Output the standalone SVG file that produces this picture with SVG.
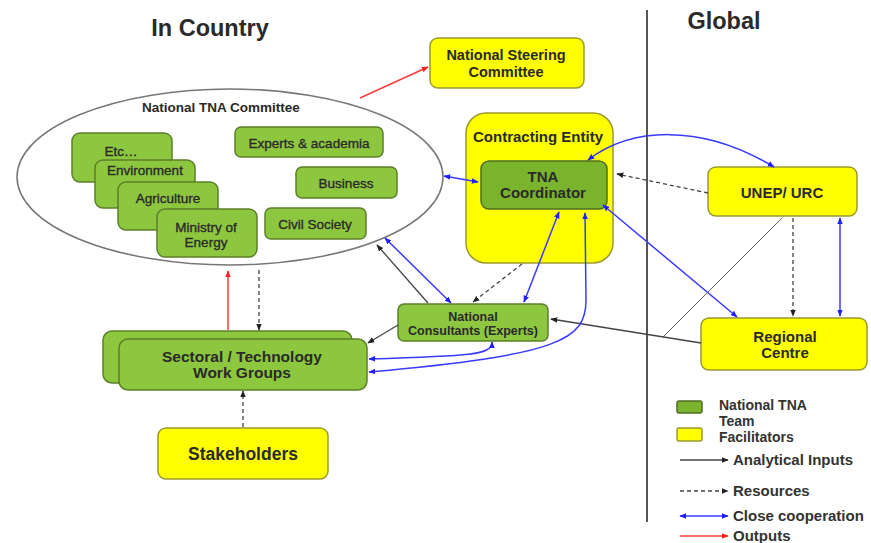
<svg xmlns="http://www.w3.org/2000/svg" width="871" height="543" viewBox="0 0 871 543">
<defs>
<style>
text{font-family:"Liberation Sans",Arial,sans-serif;font-weight:bold;fill:#2a2a2a;text-anchor:middle}
.in{font-weight:normal;font-size:13.5px;stroke:#2a2a2a;stroke-width:0.35}
.g{fill:#8dc63f;stroke:#5d7f2a;stroke-width:1.5}
.gd{fill:#7ab32c;stroke:#4f6f22;stroke-width:1.5}
.y{fill:#ffff00;stroke:#9a9a30;stroke-width:1.5}
.blk{fill:none;stroke:#444;stroke-width:1.3}
.dash{fill:none;stroke:#444;stroke-width:1.3;stroke-dasharray:4,3}
.blue{fill:none;stroke:#3a3aff;stroke-width:1.5}
.red{fill:none;stroke:#ff3b3b;stroke-width:1.5}
.lt{text-anchor:start;font-size:15px;fill:#333}
.lk{text-anchor:start;font-size:14px;fill:#333}
</style>
<marker id="ak" viewBox="0 0 10 10" refX="9" refY="5" markerWidth="7" markerHeight="7" orient="auto-start-reverse" markerUnits="userSpaceOnUse"><path d="M0,1 L10,5 L0,9 z" fill="#222"/></marker>
<marker id="ab" viewBox="0 0 10 10" refX="9" refY="5" markerWidth="7" markerHeight="7" orient="auto-start-reverse" markerUnits="userSpaceOnUse"><path d="M0,1 L10,5 L0,9 z" fill="#2020ff"/></marker>
<marker id="ar" viewBox="0 0 10 10" refX="9" refY="5" markerWidth="7" markerHeight="7" orient="auto-start-reverse" markerUnits="userSpaceOnUse"><path d="M0,1 L10,5 L0,9 z" fill="#ff2020"/></marker>
</defs>
<rect width="871" height="543" fill="#fff"/>
<text x="210" y="36" font-size="23.5">In Country</text>
<text x="724" y="29" font-size="23.5">Global</text>
<line x1="647" y1="10" x2="647" y2="522" stroke="#555" stroke-width="2"/>

<g id="national-tna-committee">
<ellipse cx="230" cy="177" rx="213" ry="88" fill="#fff" stroke="#777" stroke-width="1.5"/>
<text x="221" y="112" font-size="13.5">National TNA Committee</text>
</g>
<g id="etc"><rect class="g" x="72" y="133" width="100" height="49" rx="8"/><text class="in" x="121" y="156">Etc…</text></g>
<g id="environment"><rect class="g" x="95" y="160" width="100" height="48" rx="8"/><text class="in" x="145" y="175">Environment</text></g>
<g id="agriculture"><rect class="g" x="118" y="182" width="100" height="48" rx="8"/><text class="in" x="168" y="203">Agriculture</text></g>
<g id="ministry-of-energy"><rect class="g" x="157" y="209" width="100" height="48" rx="8"/><text class="in" x="206" y="232">Ministry of</text><text class="in" x="206" y="247">Energy</text></g>
<g id="experts-academia"><rect class="g" x="235" y="127" width="148" height="30" rx="6"/><text class="in" x="309" y="148">Experts &amp; academia</text></g>
<g id="business"><rect class="g" x="296" y="167" width="101" height="31" rx="6"/><text class="in" x="346" y="188">Business</text></g>
<g id="civil-society"><rect class="g" x="265" y="208" width="101" height="31" rx="6"/><text class="in" x="315" y="229">Civil Society</text></g>

<g id="national-steering-committee"><rect class="y" x="430" y="38" width="154" height="50" rx="8"/><text x="506" y="60" font-size="14.5">National Steering</text><text x="506" y="77" font-size="14.5">Committee</text></g>

<g id="contracting-entity"><rect class="y" x="466" y="113" width="147" height="150" rx="20"/><text x="538" y="142" font-size="15">Contracting Entity</text></g>
<g id="tna-coordinator"><rect class="gd" x="481" y="161" width="126" height="48" rx="8"/><text x="543" y="182" font-size="15">TNA</text><text x="543" y="198" font-size="15">Coordinator</text></g>

<g id="unep-urc"><rect class="y" x="708" y="167" width="149" height="49" rx="8"/><text x="782" y="198" font-size="15">UNEP/ URC</text></g>
<g id="regional-centre"><rect class="y" x="701" y="318" width="166" height="52" rx="8"/><text x="785" y="342" font-size="15">Regional</text><text x="785" y="358" font-size="15">Centre</text></g>

<g id="national-consultants"><rect class="g" x="398" y="304" width="150" height="37" rx="6"/><text x="473" y="321" font-size="12.5">National</text><text x="473" y="335" font-size="12.5">Consultants (Experts)</text></g>

<g id="sectoral-work-groups"><rect class="g" x="103" y="331" width="249" height="52" rx="9"/><rect class="g" x="119" y="339" width="248" height="51" rx="9"/><text x="242" y="362" font-size="15.5">Sectoral / Technology</text><text x="242" y="378" font-size="15.5">Work Groups</text></g>

<g id="stakeholders"><rect class="y" x="158" y="428" width="170" height="51" rx="8"/><text x="243" y="460" font-size="17.5">Stakeholders</text></g>

<g id="connectors">
<line class="red" x1="360" y1="98" x2="428" y2="67" marker-end="url(#ar)"/>
<line class="red" x1="228" y1="330" x2="228" y2="271" marker-end="url(#ar)"/>
<line class="dash" x1="259" y1="270" x2="259" y2="330" marker-end="url(#ak)"/>
<line class="dash" x1="243" y1="427" x2="243" y2="391" marker-end="url(#ak)"/>
<line class="blue" x1="444" y1="176" x2="478" y2="182" marker-start="url(#ab)" marker-end="url(#ab)"/>
<path class="blue" d="M588,160 C630,128 700,122 774,167" marker-start="url(#ab)" marker-end="url(#ab)"/>
<line class="dash" x1="708" y1="193" x2="617" y2="174" marker-end="url(#ak)"/>
<line class="blue" x1="603" y1="205" x2="737" y2="317" marker-start="url(#ab)" marker-end="url(#ab)"/>
<line class="dash" x1="793" y1="218" x2="793" y2="316" marker-end="url(#ak)"/>
<line class="blue" x1="840" y1="218" x2="840" y2="316" marker-start="url(#ab)" marker-end="url(#ab)"/>
<line x1="782" y1="218" x2="663" y2="337" stroke="#666" stroke-width="1"/>
<line class="blk" x1="701" y1="343" x2="551" y2="319" marker-end="url(#ak)"/>
<line class="dash" x1="522" y1="264" x2="473" y2="302" marker-end="url(#ak)"/>
<line class="blue" x1="559" y1="212" x2="524" y2="302" marker-start="url(#ab)" marker-end="url(#ab)"/>
<path class="blue" d="M585,213 L586,300 C586,340 560,355 369,372" marker-start="url(#ab)" marker-end="url(#ab)"/>
<path class="blue" d="M492,342 C492,355 470,356 369,359" marker-start="url(#ab)" marker-end="url(#ab)"/>
<line class="blk" x1="398" y1="325" x2="368" y2="343" marker-end="url(#ak)"/>
<line class="blk" x1="428" y1="303" x2="377" y2="245" marker-end="url(#ak)"/>
<line class="blue" x1="385" y1="238" x2="451" y2="303" marker-start="url(#ab)" marker-end="url(#ab)"/>
</g>

<g id="legend">
<rect class="gd" x="677" y="401" width="25" height="12" rx="2"/>
<rect class="y" x="677" y="428" width="25" height="13" rx="2"/>
<text class="lk" x="719" y="410">National TNA</text>
<text class="lk" x="719" y="426">Team</text>
<text class="lk" x="719" y="442">Facilitators</text>
<line class="blk" x1="680" y1="460" x2="728" y2="460" marker-end="url(#ak)"/>
<text class="lt" x="733" y="465">Analytical Inputs</text>
<line class="dash" x1="680" y1="491" x2="728" y2="491" marker-end="url(#ak)"/>
<text class="lt" x="733" y="496">Resources</text>
<line class="blue" x1="680" y1="516" x2="728" y2="516" marker-start="url(#ab)" marker-end="url(#ab)"/>
<text class="lt" x="733" y="521">Close cooperation</text>
<line class="red" x1="680" y1="536" x2="728" y2="536" marker-end="url(#ar)"/>
<text class="lt" x="733" y="541">Outputs</text>
</g>
</svg>
